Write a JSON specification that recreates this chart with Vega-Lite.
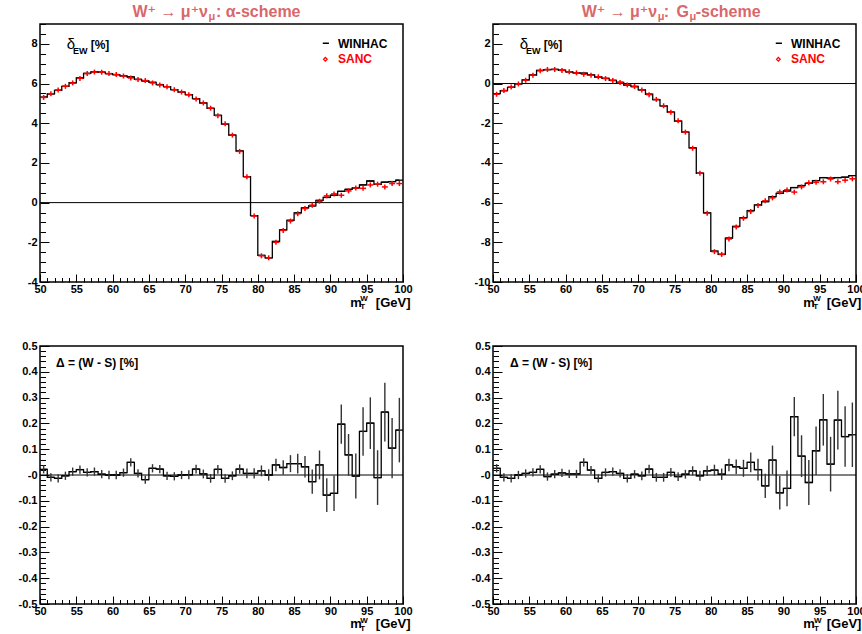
{
  "$schema": "https://vega.github.io/schema/vega-lite/v6.json",
  "padding": {"left": 17, "top": 3, "right": 0, "bottom": 0},
  "bounds": "flush",
  "spacing": {"row": 64, "column": 90},
  "columns": 2,
  "datasets": {
    "h": [
      {"m": 50.5, "wa": 5.32, "sa": 5.30, "da": 0.022, "wg": -0.51, "sg": -0.54, "dg": 0.026, "e": 0.016},
      {"m": 51.5, "wa": 5.48, "sa": 5.49, "da": -0.009, "wg": -0.36, "sg": -0.35, "dg": -0.009, "e": 0.016},
      {"m": 52.5, "wa": 5.66, "sa": 5.67, "da": -0.013, "wg": -0.19, "sg": -0.18, "dg": -0.013, "e": 0.016},
      {"m": 53.5, "wa": 5.86, "sa": 5.86, "da": -0.003, "wg": -0.02, "sg": -0.02, "dg": 0.000, "e": 0.016},
      {"m": 54.5, "wa": 6.04, "sa": 6.03, "da": 0.013, "wg": 0.18, "sg": 0.17, "dg": 0.006, "e": 0.016},
      {"m": 55.5, "wa": 6.28, "sa": 6.26, "da": 0.021, "wg": 0.43, "sg": 0.42, "dg": 0.010, "e": 0.016},
      {"m": 56.5, "wa": 6.51, "sa": 6.50, "da": 0.010, "wg": 0.66, "sg": 0.64, "dg": 0.022, "e": 0.016},
      {"m": 57.5, "wa": 6.59, "sa": 6.58, "da": 0.013, "wg": 0.70, "sg": 0.71, "dg": -0.006, "e": 0.016},
      {"m": 58.5, "wa": 6.57, "sa": 6.57, "da": 0.003, "wg": 0.71, "sg": 0.71, "dg": 0.003, "e": 0.016},
      {"m": 59.5, "wa": 6.50, "sa": 6.50, "da": 0.000, "wg": 0.67, "sg": 0.66, "dg": 0.008, "e": 0.016},
      {"m": 60.5, "wa": 6.45, "sa": 6.45, "da": 0.000, "wg": 0.59, "sg": 0.59, "dg": 0.004, "e": 0.016},
      {"m": 61.5, "wa": 6.39, "sa": 6.38, "da": 0.009, "wg": 0.54, "sg": 0.54, "dg": 0.004, "e": 0.016},
      {"m": 62.5, "wa": 6.33, "sa": 6.28, "da": 0.049, "wg": 0.52, "sg": 0.47, "dg": 0.049, "e": 0.016},
      {"m": 63.5, "wa": 6.21, "sa": 6.20, "da": 0.006, "wg": 0.44, "sg": 0.42, "dg": 0.019, "e": 0.016},
      {"m": 64.5, "wa": 6.13, "sa": 6.15, "da": -0.018, "wg": 0.33, "sg": 0.34, "dg": -0.013, "e": 0.016},
      {"m": 65.5, "wa": 6.06, "sa": 6.03, "da": 0.026, "wg": 0.26, "sg": 0.25, "dg": 0.010, "e": 0.016},
      {"m": 66.5, "wa": 5.95, "sa": 5.93, "da": 0.023, "wg": 0.16, "sg": 0.15, "dg": 0.013, "e": 0.016},
      {"m": 67.5, "wa": 5.84, "sa": 5.84, "da": -0.003, "wg": 0.06, "sg": 0.05, "dg": 0.006, "e": 0.016},
      {"m": 68.5, "wa": 5.69, "sa": 5.69, "da": -0.005, "wg": -0.08, "sg": -0.07, "dg": -0.013, "e": 0.016},
      {"m": 69.5, "wa": 5.57, "sa": 5.57, "da": 0.000, "wg": -0.15, "sg": -0.15, "dg": 0.003, "e": 0.016},
      {"m": 70.5, "wa": 5.44, "sa": 5.44, "da": 0.001, "wg": -0.32, "sg": -0.32, "dg": -0.003, "e": 0.017},
      {"m": 71.5, "wa": 5.24, "sa": 5.22, "da": 0.023, "wg": -0.54, "sg": -0.56, "dg": 0.023, "e": 0.017},
      {"m": 72.5, "wa": 5.02, "sa": 5.02, "da": 0.004, "wg": -0.81, "sg": -0.80, "dg": -0.009, "e": 0.017},
      {"m": 73.5, "wa": 4.75, "sa": 4.76, "da": -0.013, "wg": -1.13, "sg": -1.12, "dg": -0.009, "e": 0.017},
      {"m": 74.5, "wa": 4.40, "sa": 4.38, "da": 0.022, "wg": -1.44, "sg": -1.45, "dg": 0.010, "e": 0.017},
      {"m": 75.5, "wa": 3.96, "sa": 3.97, "da": -0.013, "wg": -1.89, "sg": -1.88, "dg": -0.006, "e": 0.017},
      {"m": 76.5, "wa": 3.40, "sa": 3.40, "da": -0.003, "wg": -2.45, "sg": -2.45, "dg": 0.003, "e": 0.017},
      {"m": 77.5, "wa": 2.60, "sa": 2.58, "da": 0.023, "wg": -3.24, "sg": -3.26, "dg": 0.016, "e": 0.018},
      {"m": 78.5, "wa": 1.31, "sa": 1.30, "da": 0.006, "wg": -4.52, "sg": -4.52, "dg": -0.003, "e": 0.019},
      {"m": 79.5, "wa": -0.66, "sa": -0.67, "da": 0.006, "wg": -6.52, "sg": -6.54, "dg": 0.016, "e": 0.020},
      {"m": 80.5, "wa": -2.66, "sa": -2.68, "da": 0.016, "wg": -8.45, "sg": -8.47, "dg": 0.019, "e": 0.021},
      {"m": 81.5, "wa": -2.78, "sa": -2.78, "da": 0.000, "wg": -8.61, "sg": -8.61, "dg": 0.003, "e": 0.022},
      {"m": 82.5, "wa": -1.96, "sa": -2.00, "da": 0.039, "wg": -7.79, "sg": -7.83, "dg": 0.039, "e": 0.024},
      {"m": 83.5, "wa": -1.37, "sa": -1.40, "da": 0.029, "wg": -7.20, "sg": -7.23, "dg": 0.032, "e": 0.028},
      {"m": 84.5, "wa": -0.89, "sa": -0.93, "da": 0.044, "wg": -6.76, "sg": -6.79, "dg": 0.026, "e": 0.033},
      {"m": 85.5, "wa": -0.52, "sa": -0.56, "da": 0.044, "wg": -6.40, "sg": -6.45, "dg": 0.049, "e": 0.038},
      {"m": 86.5, "wa": -0.27, "sa": -0.30, "da": 0.032, "wg": -6.12, "sg": -6.14, "dg": 0.021, "e": 0.042},
      {"m": 87.5, "wa": -0.16, "sa": -0.13, "da": -0.026, "wg": -5.95, "sg": -5.91, "dg": -0.042, "e": 0.047},
      {"m": 88.5, "wa": 0.11, "sa": 0.07, "da": 0.039, "wg": -5.70, "sg": -5.76, "dg": 0.058, "e": 0.056},
      {"m": 89.5, "wa": 0.26, "sa": 0.34, "da": -0.078, "wg": -5.53, "sg": -5.46, "dg": -0.069, "e": 0.065},
      {"m": 90.5, "wa": 0.37, "sa": 0.44, "da": -0.071, "wg": -5.41, "sg": -5.36, "dg": -0.052, "e": 0.069},
      {"m": 91.5, "wa": 0.57, "sa": 0.37, "da": 0.197, "wg": -5.24, "sg": -5.47, "dg": 0.226, "e": 0.076},
      {"m": 92.5, "wa": 0.67, "sa": 0.59, "da": 0.078, "wg": -5.14, "sg": -5.21, "dg": 0.073, "e": 0.081},
      {"m": 93.5, "wa": 0.74, "sa": 0.74, "da": -0.004, "wg": -5.03, "sg": -5.00, "dg": -0.029, "e": 0.087},
      {"m": 94.5, "wa": 0.89, "sa": 0.72, "da": 0.169, "wg": -4.89, "sg": -4.98, "dg": 0.094, "e": 0.094},
      {"m": 95.5, "wa": 1.09, "sa": 0.89, "da": 0.201, "wg": -4.74, "sg": -4.95, "dg": 0.214, "e": 0.100},
      {"m": 96.5, "wa": 0.92, "sa": 0.93, "da": -0.010, "wg": -4.77, "sg": -4.81, "dg": 0.042, "e": 0.106},
      {"m": 97.5, "wa": 1.03, "sa": 0.79, "da": 0.244, "wg": -4.74, "sg": -4.95, "dg": 0.213, "e": 0.114},
      {"m": 98.5, "wa": 1.06, "sa": 0.96, "da": 0.104, "wg": -4.72, "sg": -4.87, "dg": 0.149, "e": 0.117},
      {"m": 99.5, "wa": 1.13, "sa": 0.96, "da": 0.174, "wg": -4.64, "sg": -4.80, "dg": 0.156, "e": 0.125}
    ]
  },
  "data": {"name": "h"},
  "config": {
    "view": {"stroke": "black", "strokeWidth": 1.5},
    "axis": {"labelFont": "Liberation Sans", "labelFontSize": 11, "labelFontWeight": "bold", "labelColor": "black", "tickColor": "black", "tickWidth": 1, "grid": false, "domain": false, "labelOverlap": false, "labelFlush": false, "labelBound": false, "zindex": 1}
  },
  "concat": [
    {
      "width": 363, "height": 258,
      "transform": [{"calculate": "datum.m - 0.5", "as": "lo"}, {"calculate": "datum.m + 0.5", "as": "hi"}],
      "resolve": {"axis": {"x": "independent", "y": "independent"}},
      "layer": [
        {"mark": {"type": "rule", "color": "black", "strokeWidth": 1.3},
         "encoding": {
           "x": {"field": "lo", "type": "quantitative", "scale": {"domain": [50, 100], "nice": false, "zero": false},
                 "axis": {"orient": "bottom", "title": null, "values": [50,55,60,65,70,75,80,85,90,95,100], "tickSize": -8, "labelPadding": 9.5, "labelOverlap": false, "labelFlush": false, "labelExpr": "toString(datum.value)"}},
           "x2": {"field": "hi"},
           "y": {"field": "wa", "type": "quantitative", "scale": {"domain": [-4, 9], "nice": false, "zero": false},
                 "axis": {"orient": "left", "title": null, "values": [-4,-2,0,2,4,6,8], "tickSize": -9, "labelPadding": 12, "labelOverlap": false, "labelExpr": "toString(datum.value)"}}
         }},
        {"mark": {"type": "line", "interpolate": "step", "color": "black", "strokeWidth": 1.3},
         "encoding": {
           "x": {"field": "m", "type": "quantitative", "axis": {"orient": "bottom", "title": null, "labels": false, "tickSize": -4.5, "values": [51,52,53,54,56,57,58,59,61,62,63,64,66,67,68,69,71,72,73,74,76,77,78,79,81,82,83,84,86,87,88,89,91,92,93,94,96,97,98,99]}},
           "y": {"field": "wa", "type": "quantitative", "axis": {"orient": "left", "title": null, "labels": false, "tickSize": -5.5, "values": [-3.5,-3,-2.5,-1.5,-1,-0.5,0.5,1,1.5,2.5,3,3.5,4.5,5,5.5,6.5,7,7.5,8.5,9]}}
         }},
        {"data": {"values": [{}]}, "mark": {"type": "rule", "color": "black", "strokeWidth": 1}, "encoding": {"y": {"datum": 0, "axis": null}}},
        {"mark": {"type": "tick", "orient": "horizontal", "size": 6, "thickness": 1.5, "color": "#ff0000", "opacity": 1},
         "encoding": {"x": {"field": "m", "type": "quantitative", "axis": null}, "y": {"field": "sa", "type": "quantitative", "axis": null}}},
        {"mark": {"type": "tick", "orient": "vertical", "size": 5, "thickness": 1.5, "color": "#ff0000", "opacity": 1},
         "encoding": {"x": {"field": "m", "type": "quantitative", "axis": null}, "y": {"field": "sa", "type": "quantitative", "axis": null}}},
        {"data": {"values": [{}]}, "mark": {"type": "text", "align": "right", "baseline": "alphabetic", "font": "Liberation Sans, DejaVu Sans", "fontSize": 16, "fontWeight": "bold", "color": "#d9676b"},
         "encoding": {"x": {"datum": 73.14, "axis": null}, "y": {"datum": 9.35, "axis": null}, "text": {"value": "W⁺ → μ⁺ν"}}},
        {"data": {"values": [{}]}, "mark": {"type": "text", "align": "left", "baseline": "alphabetic", "font": "Liberation Sans, DejaVu Sans", "fontSize": 11, "fontWeight": "bold", "color": "#d9676b"},
         "encoding": {"x": {"datum": 73.2, "axis": null}, "y": {"datum": 9.18, "axis": null}, "text": {"value": "μ"}}},
        {"data": {"values": [{}]}, "mark": {"type": "text", "align": "left", "baseline": "alphabetic", "font": "Liberation Sans, DejaVu Sans", "fontSize": 16, "fontWeight": "bold", "color": "#d9676b"},
         "encoding": {"x": {"datum": 74.24, "axis": null}, "y": {"datum": 9.35, "axis": null}, "text": {"value": ": α-scheme"}}},
        {"data": {"values": [{}]}, "mark": {"type": "text", "align": "left", "baseline": "alphabetic", "font": "Liberation Sans", "fontSize": 15, "color": "black"},
         "encoding": {"x": {"datum": 53.68, "axis": null}, "y": {"datum": 7.725, "axis": null}, "text": {"value": "δ"}}},
        {"data": {"values": [{}]}, "mark": {"type": "text", "align": "left", "baseline": "alphabetic", "font": "Liberation Sans", "fontSize": 9, "fontWeight": "bold", "color": "black"},
         "encoding": {"x": {"datum": 54.55, "axis": null}, "y": {"datum": 7.48, "axis": null}, "text": {"value": "EW"}}},
        {"data": {"values": [{}]}, "mark": {"type": "text", "align": "left", "baseline": "alphabetic", "font": "Liberation Sans", "fontSize": 12, "fontWeight": "bold", "color": "black"},
         "encoding": {"x": {"datum": 56.98, "axis": null}, "y": {"datum": 7.725, "axis": null}, "text": {"value": "[%]"}}},
        {"data": {"values": [{}]}, "mark": {"type": "rule", "color": "black", "strokeWidth": 1.5},
         "encoding": {"x": {"datum": 88.95, "axis": null}, "x2": {"datum": 89.8}, "y": {"datum": 8.03, "axis": null}}},
        {"data": {"values": [{}]}, "mark": {"type": "text", "align": "left", "baseline": "alphabetic", "font": "Liberation Sans", "fontSize": 12, "fontWeight": "bold", "color": "black"},
         "encoding": {"x": {"datum": 91.05, "axis": null}, "y": {"datum": 7.81, "axis": null}, "text": {"value": "WINHAC"}}},
        {"data": {"values": [{}]}, "mark": {"type": "point", "shape": "diamond", "filled": false, "color": "#ff0000", "strokeWidth": 1.2, "size": 14, "opacity": 1},
         "encoding": {"x": {"datum": 89.3, "axis": null}, "y": {"datum": 7.22, "axis": null}}},
        {"data": {"values": [{}]}, "mark": {"type": "text", "align": "left", "baseline": "alphabetic", "font": "Liberation Sans", "fontSize": 12, "fontWeight": "bold", "color": "#ff0000"},
         "encoding": {"x": {"datum": 91.05, "axis": null}, "y": {"datum": 7.02, "axis": null}, "text": {"value": "SANC"}}},
        {"data": {"values": [{}]}, "mark": {"type": "text", "align": "left", "baseline": "alphabetic", "font": "Liberation Sans", "fontSize": 13, "fontWeight": "bold", "color": "black"},
         "encoding": {"x": {"datum": 92.74, "axis": null}, "y": {"datum": -5.25, "axis": null}, "text": {"value": "m"}}},
        {"data": {"values": [{}]}, "mark": {"type": "text", "align": "left", "baseline": "alphabetic", "font": "Liberation Sans", "fontSize": 8, "fontWeight": "bold", "color": "black"},
         "encoding": {"x": {"datum": 94.12, "axis": null}, "y": {"datum": -4.98, "axis": null}, "text": {"value": "W"}}},
        {"data": {"values": [{}]}, "mark": {"type": "text", "align": "left", "baseline": "alphabetic", "font": "Liberation Sans", "fontSize": 8, "fontWeight": "bold", "color": "black"},
         "encoding": {"x": {"datum": 94.12, "axis": null}, "y": {"datum": -5.37, "axis": null}, "text": {"value": "T"}}},
        {"data": {"values": [{}]}, "mark": {"type": "text", "align": "right", "baseline": "alphabetic", "font": "Liberation Sans", "fontSize": 13, "fontWeight": "bold", "color": "black"},
         "encoding": {"x": {"datum": 101.03, "axis": null}, "y": {"datum": -5.25, "axis": null}, "text": {"value": "[GeV]"}}}
      ]
    },
    {
      "width": 363, "height": 258,
      "transform": [{"calculate": "datum.m - 0.5", "as": "lo"}, {"calculate": "datum.m + 0.5", "as": "hi"}],
      "resolve": {"axis": {"x": "independent", "y": "independent"}},
      "layer": [
        {"mark": {"type": "rule", "color": "black", "strokeWidth": 1.3},
         "encoding": {
           "x": {"field": "lo", "type": "quantitative", "scale": {"domain": [50, 100], "nice": false, "zero": false},
                 "axis": {"orient": "bottom", "title": null, "values": [50,55,60,65,70,75,80,85,90,95,100], "tickSize": -8, "labelPadding": 9.5, "labelOverlap": false, "labelFlush": false, "labelExpr": "toString(datum.value)"}},
           "x2": {"field": "hi"},
           "y": {"field": "wg", "type": "quantitative", "scale": {"domain": [-10, 3], "nice": false, "zero": false},
                 "axis": {"orient": "left", "title": null, "values": [-10,-8,-6,-4,-2,0,2], "tickSize": -9, "labelPadding": 12, "labelOverlap": false, "labelExpr": "toString(datum.value)"}}
         }},
        {"mark": {"type": "line", "interpolate": "step", "color": "black", "strokeWidth": 1.3},
         "encoding": {
           "x": {"field": "m", "type": "quantitative", "axis": {"orient": "bottom", "title": null, "labels": false, "tickSize": -4.5, "values": [51,52,53,54,56,57,58,59,61,62,63,64,66,67,68,69,71,72,73,74,76,77,78,79,81,82,83,84,86,87,88,89,91,92,93,94,96,97,98,99]}},
           "y": {"field": "wg", "type": "quantitative", "axis": {"orient": "left", "title": null, "labels": false, "tickSize": -5.5, "values": [-9.5,-9,-8.5,-7.5,-7,-6.5,-5.5,-5,-4.5,-3.5,-3,-2.5,-1.5,-1,-0.5,0.5,1,1.5,2.5,3]}}
         }},
        {"data": {"values": [{}]}, "mark": {"type": "rule", "color": "black", "strokeWidth": 1}, "encoding": {"y": {"datum": 0, "axis": null}}},
        {"mark": {"type": "tick", "orient": "horizontal", "size": 6, "thickness": 1.5, "color": "#ff0000", "opacity": 1},
         "encoding": {"x": {"field": "m", "type": "quantitative", "axis": null}, "y": {"field": "sg", "type": "quantitative", "axis": null}}},
        {"mark": {"type": "tick", "orient": "vertical", "size": 5, "thickness": 1.5, "color": "#ff0000", "opacity": 1},
         "encoding": {"x": {"field": "m", "type": "quantitative", "axis": null}, "y": {"field": "sg", "type": "quantitative", "axis": null}}},
        {"data": {"values": [{}]}, "mark": {"type": "text", "align": "right", "baseline": "alphabetic", "font": "Liberation Sans, DejaVu Sans", "fontSize": 16, "fontWeight": "bold", "color": "#d9676b"},
         "encoding": {"x": {"datum": 72.62, "axis": null}, "y": {"datum": 3.35, "axis": null}, "text": {"value": "W⁺ → μ⁺ν"}}},
        {"data": {"values": [{}]}, "mark": {"type": "text", "align": "left", "baseline": "alphabetic", "font": "Liberation Sans, DejaVu Sans", "fontSize": 11, "fontWeight": "bold", "color": "#d9676b"},
         "encoding": {"x": {"datum": 72.68, "axis": null}, "y": {"datum": 3.18, "axis": null}, "text": {"value": "μ"}}},
        {"data": {"values": [{}]}, "mark": {"type": "text", "align": "left", "baseline": "alphabetic", "font": "Liberation Sans, DejaVu Sans", "fontSize": 16, "fontWeight": "bold", "color": "#d9676b"},
         "encoding": {"x": {"datum": 73.51, "axis": null}, "y": {"datum": 3.35, "axis": null}, "text": {"value": ":"}}},
        {"data": {"values": [{}]}, "mark": {"type": "text", "align": "right", "baseline": "alphabetic", "font": "Liberation Sans, DejaVu Sans", "fontSize": 16, "fontWeight": "bold", "color": "#d9676b"},
         "encoding": {"x": {"datum": 77.0, "axis": null}, "y": {"datum": 3.35, "axis": null}, "text": {"value": "G"}}},
        {"data": {"values": [{}]}, "mark": {"type": "text", "align": "left", "baseline": "alphabetic", "font": "Liberation Sans, DejaVu Sans", "fontSize": 11, "fontWeight": "bold", "color": "#d9676b"},
         "encoding": {"x": {"datum": 77.05, "axis": null}, "y": {"datum": 3.18, "axis": null}, "text": {"value": "μ"}}},
        {"data": {"values": [{}]}, "mark": {"type": "text", "align": "left", "baseline": "alphabetic", "font": "Liberation Sans, DejaVu Sans", "fontSize": 16, "fontWeight": "bold", "color": "#d9676b"},
         "encoding": {"x": {"datum": 77.92, "axis": null}, "y": {"datum": 3.35, "axis": null}, "text": {"value": "-scheme"}}},
        {"data": {"values": [{}]}, "mark": {"type": "text", "align": "left", "baseline": "alphabetic", "font": "Liberation Sans", "fontSize": 15, "color": "black"},
         "encoding": {"x": {"datum": 53.68, "axis": null}, "y": {"datum": 1.725, "axis": null}, "text": {"value": "δ"}}},
        {"data": {"values": [{}]}, "mark": {"type": "text", "align": "left", "baseline": "alphabetic", "font": "Liberation Sans", "fontSize": 9, "fontWeight": "bold", "color": "black"},
         "encoding": {"x": {"datum": 54.55, "axis": null}, "y": {"datum": 1.48, "axis": null}, "text": {"value": "EW"}}},
        {"data": {"values": [{}]}, "mark": {"type": "text", "align": "left", "baseline": "alphabetic", "font": "Liberation Sans", "fontSize": 12, "fontWeight": "bold", "color": "black"},
         "encoding": {"x": {"datum": 56.98, "axis": null}, "y": {"datum": 1.725, "axis": null}, "text": {"value": "[%]"}}},
        {"data": {"values": [{}]}, "mark": {"type": "rule", "color": "black", "strokeWidth": 1.5},
         "encoding": {"x": {"datum": 88.95, "axis": null}, "x2": {"datum": 89.8}, "y": {"datum": 2.03, "axis": null}}},
        {"data": {"values": [{}]}, "mark": {"type": "text", "align": "left", "baseline": "alphabetic", "font": "Liberation Sans", "fontSize": 12, "fontWeight": "bold", "color": "black"},
         "encoding": {"x": {"datum": 91.05, "axis": null}, "y": {"datum": 1.81, "axis": null}, "text": {"value": "WINHAC"}}},
        {"data": {"values": [{}]}, "mark": {"type": "point", "shape": "diamond", "filled": false, "color": "#ff0000", "strokeWidth": 1.2, "size": 14, "opacity": 1},
         "encoding": {"x": {"datum": 89.3, "axis": null}, "y": {"datum": 1.22, "axis": null}}},
        {"data": {"values": [{}]}, "mark": {"type": "text", "align": "left", "baseline": "alphabetic", "font": "Liberation Sans", "fontSize": 12, "fontWeight": "bold", "color": "#ff0000"},
         "encoding": {"x": {"datum": 91.05, "axis": null}, "y": {"datum": 1.02, "axis": null}, "text": {"value": "SANC"}}},
        {"data": {"values": [{}]}, "mark": {"type": "text", "align": "left", "baseline": "alphabetic", "font": "Liberation Sans", "fontSize": 13, "fontWeight": "bold", "color": "black"},
         "encoding": {"x": {"datum": 92.74, "axis": null}, "y": {"datum": -11.25, "axis": null}, "text": {"value": "m"}}},
        {"data": {"values": [{}]}, "mark": {"type": "text", "align": "left", "baseline": "alphabetic", "font": "Liberation Sans", "fontSize": 8, "fontWeight": "bold", "color": "black"},
         "encoding": {"x": {"datum": 94.12, "axis": null}, "y": {"datum": -10.98, "axis": null}, "text": {"value": "W"}}},
        {"data": {"values": [{}]}, "mark": {"type": "text", "align": "left", "baseline": "alphabetic", "font": "Liberation Sans", "fontSize": 8, "fontWeight": "bold", "color": "black"},
         "encoding": {"x": {"datum": 94.12, "axis": null}, "y": {"datum": -11.37, "axis": null}, "text": {"value": "T"}}},
        {"data": {"values": [{}]}, "mark": {"type": "text", "align": "right", "baseline": "alphabetic", "font": "Liberation Sans", "fontSize": 13, "fontWeight": "bold", "color": "black"},
         "encoding": {"x": {"datum": 100.75, "axis": null}, "y": {"datum": -11.25, "axis": null}, "text": {"value": "[GeV]"}}}
      ]
    },
    {
      "width": 363, "height": 258,
      "transform": [{"calculate": "datum.m - 0.5", "as": "lo"}, {"calculate": "datum.m + 0.5", "as": "hi"}],
      "resolve": {"axis": {"x": "independent", "y": "independent"}},
      "layer": [
        {"mark": {"type": "rule", "color": "black", "strokeWidth": 1.3},
         "encoding": {
           "x": {"field": "lo", "type": "quantitative", "scale": {"domain": [50, 100], "nice": false, "zero": false},
                 "axis": {"orient": "bottom", "title": null, "values": [50,55,60,65,70,75,80,85,90,95,100], "tickSize": -8, "labelPadding": 9.5, "labelOverlap": false, "labelFlush": false, "labelExpr": "toString(datum.value)"}},
           "x2": {"field": "hi"},
           "y": {"field": "da", "type": "quantitative", "scale": {"domain": [-0.5, 0.5], "nice": false, "zero": false},
                 "axis": {"orient": "left", "title": null, "values": [-0.5,-0.4,-0.3,-0.2,-0.1,0,0.1,0.2,0.3,0.4,0.5], "tickSize": -9, "labelPadding": 12, "labelOverlap": false, "labelExpr": "datum.value === 0 ? '-0' : toString(datum.value)"}}
         }},
        {"mark": {"type": "line", "interpolate": "step", "color": "black", "strokeWidth": 1.3},
         "encoding": {
           "x": {"field": "m", "type": "quantitative", "axis": {"orient": "bottom", "title": null, "labels": false, "tickSize": -4.5, "values": [51,52,53,54,56,57,58,59,61,62,63,64,66,67,68,69,71,72,73,74,76,77,78,79,81,82,83,84,86,87,88,89,91,92,93,94,96,97,98,99]}},
           "y": {"field": "da", "type": "quantitative", "axis": {"orient": "left", "title": null, "labels": false, "tickSize": -5.5, "values": [-0.48,-0.46,-0.44,-0.42,-0.38,-0.36,-0.34,-0.32,-0.28,-0.26,-0.24,-0.22,-0.18,-0.16,-0.14,-0.12,-0.08,-0.06,-0.04,-0.02,0.02,0.04,0.06,0.08,0.12,0.14,0.16,0.18,0.22,0.24,0.26,0.28,0.32,0.34,0.36,0.38,0.42,0.44,0.46,0.48]}}
         }},
        {"data": {"values": [{}]}, "mark": {"type": "rule", "color": "black", "strokeWidth": 1}, "encoding": {"y": {"datum": 0, "axis": null}}},
        {"mark": {"type": "errorbar", "color": "#333333", "thickness": 1.4},
         "encoding": {"x": {"field": "m", "type": "quantitative", "axis": null}, "y": {"field": "da", "type": "quantitative", "axis": null}, "yError": {"field": "e"}}},
        {"data": {"values": [{}]}, "mark": {"type": "text", "align": "left", "baseline": "alphabetic", "font": "Liberation Sans", "fontSize": 12, "fontWeight": "bold", "color": "black"},
         "encoding": {"x": {"datum": 52.2, "axis": null}, "y": {"datum": 0.4186, "axis": null}, "text": {"value": "Δ = (W - S) [%]"}}},
        {"data": {"values": [{}]}, "mark": {"type": "text", "align": "left", "baseline": "alphabetic", "font": "Liberation Sans", "fontSize": 13, "fontWeight": "bold", "color": "black"},
         "encoding": {"x": {"datum": 92.74, "axis": null}, "y": {"datum": -0.594, "axis": null}, "text": {"value": "m"}}},
        {"data": {"values": [{}]}, "mark": {"type": "text", "align": "left", "baseline": "alphabetic", "font": "Liberation Sans", "fontSize": 8, "fontWeight": "bold", "color": "black"},
         "encoding": {"x": {"datum": 94.12, "axis": null}, "y": {"datum": -0.574, "axis": null}, "text": {"value": "W"}}},
        {"data": {"values": [{}]}, "mark": {"type": "text", "align": "left", "baseline": "alphabetic", "font": "Liberation Sans", "fontSize": 8, "fontWeight": "bold", "color": "black"},
         "encoding": {"x": {"datum": 94.12, "axis": null}, "y": {"datum": -0.603, "axis": null}, "text": {"value": "T"}}},
        {"data": {"values": [{}]}, "mark": {"type": "text", "align": "right", "baseline": "alphabetic", "font": "Liberation Sans", "fontSize": 13, "fontWeight": "bold", "color": "black"},
         "encoding": {"x": {"datum": 101.03, "axis": null}, "y": {"datum": -0.594, "axis": null}, "text": {"value": "[GeV]"}}}
      ]
    },
    {
      "width": 363, "height": 258,
      "transform": [{"calculate": "datum.m - 0.5", "as": "lo"}, {"calculate": "datum.m + 0.5", "as": "hi"}],
      "resolve": {"axis": {"x": "independent", "y": "independent"}},
      "layer": [
        {"mark": {"type": "rule", "color": "black", "strokeWidth": 1.3},
         "encoding": {
           "x": {"field": "lo", "type": "quantitative", "scale": {"domain": [50, 100], "nice": false, "zero": false},
                 "axis": {"orient": "bottom", "title": null, "values": [50,55,60,65,70,75,80,85,90,95,100], "tickSize": -8, "labelPadding": 9.5, "labelOverlap": false, "labelFlush": false, "labelExpr": "toString(datum.value)"}},
           "x2": {"field": "hi"},
           "y": {"field": "dg", "type": "quantitative", "scale": {"domain": [-0.5, 0.5], "nice": false, "zero": false},
                 "axis": {"orient": "left", "title": null, "values": [-0.5,-0.4,-0.3,-0.2,-0.1,0,0.1,0.2,0.3,0.4,0.5], "tickSize": -9, "labelPadding": 12, "labelOverlap": false, "labelExpr": "datum.value === 0 ? '-0' : toString(datum.value)"}}
         }},
        {"mark": {"type": "line", "interpolate": "step", "color": "black", "strokeWidth": 1.3},
         "encoding": {
           "x": {"field": "m", "type": "quantitative", "axis": {"orient": "bottom", "title": null, "labels": false, "tickSize": -4.5, "values": [51,52,53,54,56,57,58,59,61,62,63,64,66,67,68,69,71,72,73,74,76,77,78,79,81,82,83,84,86,87,88,89,91,92,93,94,96,97,98,99]}},
           "y": {"field": "dg", "type": "quantitative", "axis": {"orient": "left", "title": null, "labels": false, "tickSize": -5.5, "values": [-0.48,-0.46,-0.44,-0.42,-0.38,-0.36,-0.34,-0.32,-0.28,-0.26,-0.24,-0.22,-0.18,-0.16,-0.14,-0.12,-0.08,-0.06,-0.04,-0.02,0.02,0.04,0.06,0.08,0.12,0.14,0.16,0.18,0.22,0.24,0.26,0.28,0.32,0.34,0.36,0.38,0.42,0.44,0.46,0.48]}}
         }},
        {"data": {"values": [{}]}, "mark": {"type": "rule", "color": "black", "strokeWidth": 1}, "encoding": {"y": {"datum": 0, "axis": null}}},
        {"mark": {"type": "errorbar", "color": "#333333", "thickness": 1.4},
         "encoding": {"x": {"field": "m", "type": "quantitative", "axis": null}, "y": {"field": "dg", "type": "quantitative", "axis": null}, "yError": {"field": "e"}}},
        {"data": {"values": [{}]}, "mark": {"type": "text", "align": "left", "baseline": "alphabetic", "font": "Liberation Sans", "fontSize": 12, "fontWeight": "bold", "color": "black"},
         "encoding": {"x": {"datum": 52.34, "axis": null}, "y": {"datum": 0.4186, "axis": null}, "text": {"value": "Δ = (W - S) [%]"}}},
        {"data": {"values": [{}]}, "mark": {"type": "text", "align": "left", "baseline": "alphabetic", "font": "Liberation Sans", "fontSize": 13, "fontWeight": "bold", "color": "black"},
         "encoding": {"x": {"datum": 92.75, "axis": null}, "y": {"datum": -0.594, "axis": null}, "text": {"value": "m"}}},
        {"data": {"values": [{}]}, "mark": {"type": "text", "align": "left", "baseline": "alphabetic", "font": "Liberation Sans", "fontSize": 8, "fontWeight": "bold", "color": "black"},
         "encoding": {"x": {"datum": 94.2, "axis": null}, "y": {"datum": -0.574, "axis": null}, "text": {"value": "W"}}},
        {"data": {"values": [{}]}, "mark": {"type": "text", "align": "left", "baseline": "alphabetic", "font": "Liberation Sans", "fontSize": 8, "fontWeight": "bold", "color": "black"},
         "encoding": {"x": {"datum": 94.2, "axis": null}, "y": {"datum": -0.603, "axis": null}, "text": {"value": "T"}}},
        {"data": {"values": [{}]}, "mark": {"type": "text", "align": "right", "baseline": "alphabetic", "font": "Liberation Sans", "fontSize": 13, "fontWeight": "bold", "color": "black"},
         "encoding": {"x": {"datum": 100.75, "axis": null}, "y": {"datum": -0.594, "axis": null}, "text": {"value": "[GeV]"}}}
      ]
    }
  ]
}
